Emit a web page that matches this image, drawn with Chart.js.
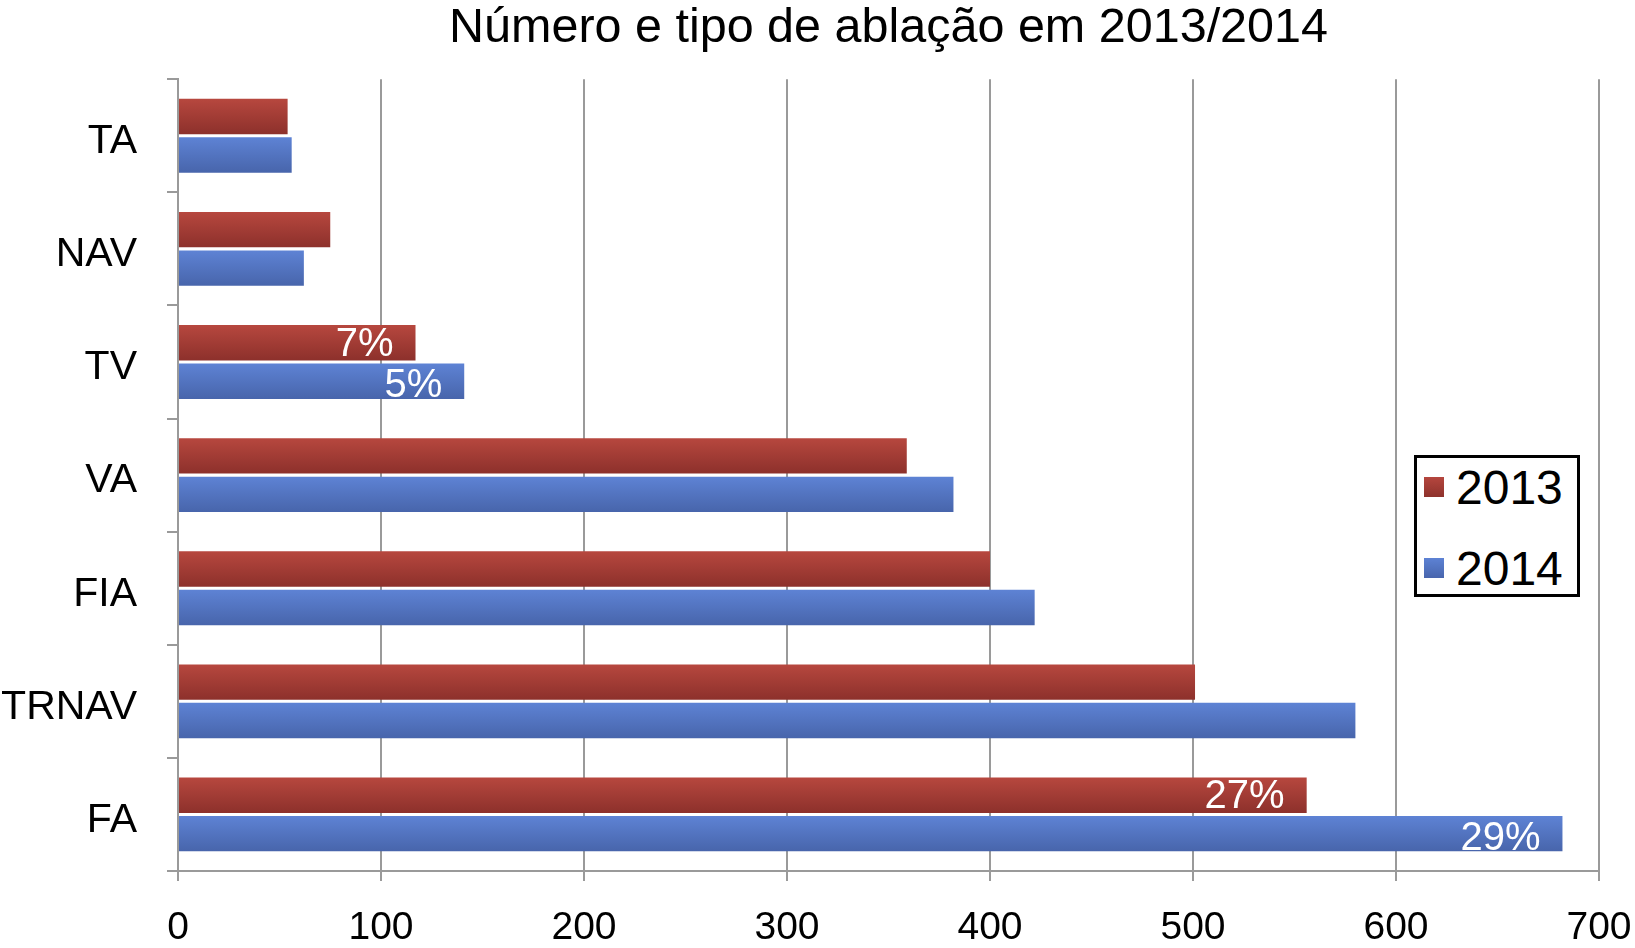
<!DOCTYPE html>
<html>
<head>
<meta charset="utf-8">
<script src="https://cdn.jsdelivr.net/npm/chart.js@4/dist/chart.umd.min.js"></script>
<style>
html,body{margin:0;padding:0;background:#fff;}
#wrap{position:relative;width:1635px;height:948px;}
#legend{position:absolute;left:1414px;top:455px;width:160px;height:136px;border:3px solid #000;background:#fff;
  font-family:"Liberation Sans",Arial,Helvetica,sans-serif;font-size:48px;color:#000;}
#legend .sw{position:absolute;left:7px;width:20px;height:20px;}
#legend .tx{position:absolute;left:39px;line-height:48px;white-space:nowrap;}
</style>
</head>
<body>
<div id="wrap">
  <canvas id="c" width="1635" height="948"></canvas>
  <div id="legend">
    <span class="sw" style="top:19px;background:linear-gradient(#b5463e,#8e322c);"></span>
    <span class="tx" id="lg0" style="top:6px;"></span>
    <span class="sw" style="top:100px;background:linear-gradient(#5d82d4,#4865ad);"></span>
    <span class="tx" id="lg1" style="top:87px;"></span>
  </div>
</div>
<script>
const categories = ["TA", "NAV", "TV", "VA", "FIA", "TRNAV", "FA"];
const seriesNames = ["2013", "2014"];
const values2013 = [54, 75, 117, 359, 400, 501, 556];
const values2014 = [56, 62, 141, 382, 422, 580, 682];
const pct2013 = [null, null, "7%", null, null, null, "27%"];
const pct2014 = [null, null, "5%", null, null, null, "29%"];
const xTicks = [0, 100, 200, 300, 400, 500, 600, 700];
const titleText = "Número e tipo de ablação em 2013/2014";

const FONT = '"Liberation Sans", Arial, Helvetica, sans-serif';

document.getElementById('lg0').textContent = seriesNames[0];
document.getElementById('lg1').textContent = seriesNames[1];

function barFill(topCol, botCol, upper) {
  return function (ctx) {
    const chart = ctx.chart;
    const ys = chart.scales && chart.scales.y;
    if (!ys || ctx.type !== 'data' || !chart.chartArea) return botCol;
    const c = ys.getPixelForValue(ctx.dataIndex);
    const y0 = upper ? c - 38 : c + 1;
    const y1 = upper ? c - 1 : c + 38;
    const g = chart.ctx.createLinearGradient(0, y0, 0, y1);
    g.addColorStop(0, topCol);
    g.addColorStop(1, botCol);
    return g;
  };
}

const pctPlugin = {
  id: 'pctLabels',
  afterDatasetsDraw(chart) {
    const c = chart.ctx;
    c.save();
    c.font = '40px ' + FONT;
    c.fillStyle = '#ffffff';
    c.textAlign = 'right';
    c.textBaseline = 'middle';
    [pct2013, pct2014].forEach((arr, di) => {
      const meta = chart.getDatasetMeta(di);
      arr.forEach((t, i) => {
        if (!t) return;
        const el = meta.data[i];
        c.fillText(t, el.x - 22, el.y + (di === 0 ? 2 : 5));
      });
    });
    c.restore();
  }
};

new Chart(document.getElementById('c'), {
  type: 'bar',
  data: {
    labels: categories,
    datasets: [
      {
        label: seriesNames[0],
        data: values2013,
        backgroundColor: barFill('#b8483f', '#8c302b', true),
        borderWidth: 0,
        categoryPercentage: 0.68,
        barPercentage: 0.92
      },
      {
        label: seriesNames[1],
        data: values2014,
        backgroundColor: barFill('#5e83d5', '#4764aa', false),
        borderWidth: 0,
        categoryPercentage: 0.68,
        barPercentage: 0.92
      }
    ]
  },
  options: {
    indexAxis: 'y',
    responsive: false,
    animation: false,
    events: [],
    layout: { padding: { left: 2, right: 36, top: 0, bottom: 0 } },
    plugins: {
      legend: { display: false },
      tooltip: { enabled: false },
      title: {
        display: true,
        text: titleText,
        fullSize: false,
        color: '#000',
        font: { family: FONT, size: 48.5, weight: 'normal', lineHeight: 1.2 },
        padding: { top: 0, bottom: 21 }
      }
    },
    scales: {
      x: {
        type: 'linear',
        min: 0,
        max: 700,
        afterBuildTicks: (s) => { s.ticks = xTicks.map(v => ({ value: v })); },
        afterFit: (s) => { s.paddingRight = 30; s.paddingLeft = 0; s.height = 77; },
        ticks: {
          color: '#000',
          padding: 24,
          font: { family: FONT, size: 39, lineHeight: 1.2 }
        },
        grid: {
          color: '#9a9a9a',
          lineWidth: 2,
          tickLength: 10,
          drawTicks: true
        },
        border: { color: '#9a9a9a', width: 2 }
      },
      y: {
        afterFit: (s) => { s.width = 176; },
        ticks: {
          color: '#000',
          padding: 30,
          labelOffset: 6,
          font: { family: FONT, size: 41, lineHeight: 1.2 }
        },
        grid: {
          drawOnChartArea: false,
          drawTicks: true,
          tickLength: 11,
          color: '#9a9a9a',
          lineWidth: 2,
          offset: true
        },
        border: { color: '#9a9a9a', width: 2 }
      }
    }
  },
  plugins: [pctPlugin]
});
</script>
</body>
</html>
